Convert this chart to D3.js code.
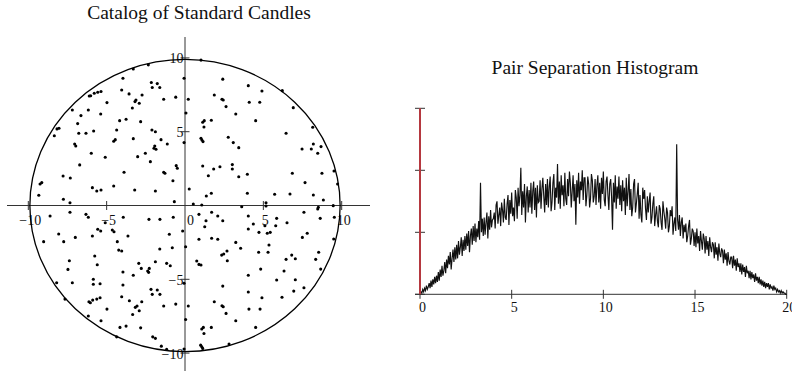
<!DOCTYPE html>
<html><head><meta charset="utf-8">
<script src="https://cdn.jsdelivr.net/npm/d3@7"></script>
<style>
body{margin:0;background:#fff}
svg{display:block}
text{font-family:"Liberation Serif","Times New Roman",serif;fill:#111}
</style>
</head><body>
<svg id="chart" width="792" height="371"></svg>
<script>
const scatterTitle = "Catalog of Standard Candles";
const histTitle = "Pair Separation Histogram";
const scatterTicks = [-10, -5, 5, 10];
const scatterXLabels = [-10, -5, 0, 5, 10];
const scatterYLabels = [10, 5, -5, -10];
const histXTicks = [0, 5, 10, 15, 20];
const histYTicks = [0, 50, 100, 150];
const circleRadius = 9.9;

const candleX = [-2.34,-3.30,-3.96,-0.06,-2.15,-1.77,-2.09,-1.61,-4.04,-5.36,
-5.57,-5.79,-6.02,-6.11,-3.57,-2.74,-0.59,-1.36,0.21,-3.13,
-3.19,-2.92,-4.98,-3.36,-7.19,-6.17,-5.38,-6.64,0.06,-3.76,
-4.17,-2.83,-6.85,-8.04,-8.17,-4.36,-5.83,-2.11,-1.89,-6.78,
-6.32,-8.34,-3.30,-1.53,-4.45,-4.55,-0.06,-7.04,-6.97,-1.13,
-1.93,-1.98,-1.85,-2.53,-5.98,-3.02,-5.09,-2.21,-6.72,-0.56,
-0.49,-3.89,-1.36,-1.28,-7.78,-7.32,-0.77,-9.14,-9.25,0.27,
-5.91,-5.63,-5.36,-4.55,-3.21,-1.89,-9.33,-7.76,
-7.34,-0.68,0.53,0.89,-8.61,-7.34,-6.32,-6.17,-5.09,-3.94,-2.30,-1.60,
-0.75,-5.57,-5.38,-4.64,-4.53,-0.15,-8.06,-5.91,-7.00,-3.64,
-1.00,-9.02,-7.74,-4.32,0.89,-4.23,-4.04,-1.61,-0.81,0.04,
-5.76,-7.38,-1.89,-2.95,-2.79,-5.60,-1.17,-0.94,0.75,0.89,
1.02,-2.28,-2.38,-2.32,-7.47,-3.96,-3.30,-5.85,-5.85,-5.42,
-7.19,-8.19,-3.96,-0.06,-2.17,-1.77,-2.09,-1.60,-4.04,-6.13,
-5.89,-5.63,-5.42,-6.04,-7.66,-3.55,-2.76,-3.06,-3.17,-2.92,
-1.36,-0.59,0.21,-4.98,-3.34,-6.17,0.04,-5.36,-4.15,-3.76,
-2.83,-4.36,-2.06,-1.89,-1.51,-1.17,-0.06,
1.07,3.62,5.17,5.17,8.51,8.47,8.83,9.46,1.70,2.09,
2.41,1.34,1.26,4.04,4.36,4.04,5.10,5.85,5.79,6.51,
7.59,8.63,9.53,4.72,5.25,5.44,1.70,2.09,7.80,7.49,
9.49,3.24,3.55,5.36,5.30,4.70,2.68,2.47,2.34,2.70,
6.81,7.04,6.45,8.53,8.34,8.66,4.83,6.32,4.04,5.85,
7.04,2.41,7.59,6.94,4.04,4.91,6.19,1.87,2.36,2.44,
4.08,4.79,2.62,3.24,1.17,1.07,1.21,1.68,4.51,1.00,
1.07,1.13,2.81,
1.02,2.41,4.04,4.91,6.21,1.87,2.36,2.44,4.10,4.77,
2.62,6.91,3.24,4.51,1.23,1.13,1.21,1.68,8.15,6.45,
1.02,1.08,1.15,2.76,3.08,3.43,7.47,8.19,8.06,8.68,
8.47,1.13,1.83,2.23,3.02,3.02,9.51,6.85,8.74,1.49,
3.43,3.98,7.66,9.74,1.36,1.68,3.98,5.72,6.70,8.19];

const candleY = [9.53,9.25,8.62,8.62,8.33,8.26,7.99,7.99,7.83,7.72,
7.67,7.61,7.44,7.42,7.56,7.49,7.34,7.20,7.20,7.15,
7.04,6.93,6.97,6.61,6.47,6.47,6.20,6.09,6.27,5.84,
5.75,5.68,5.55,5.23,5.19,5.12,5.05,5.12,5.00,4.90,
4.90,4.73,4.53,4.46,4.46,4.35,4.26,4.17,4.03,4.17,
4.03,3.88,3.81,3.54,3.54,3.31,3.27,2.97,2.75,2.70,
2.52,2.25,2.25,2.18,2.00,1.86,1.68,1.55,1.46,1.12,
1.21,0.98,1.05,1.32,1.05,0.98,0.69,0.42,
0.19,0.26,0.10,-0.60,-0.71,-0.46,-0.60,-0.80,-1.17,-0.80,-0.94,-0.94,
-0.80,-1.61,-1.73,-1.66,-1.78,-1.73,-1.93,-2.07,-2.16,-2.07,
-1.95,-2.45,-2.45,-2.45,-2.29,-3.02,-3.08,-2.95,-2.86,-2.79,
-3.42,-3.74,-3.81,-3.92,-4.26,-4.01,-3.92,-4.08,-3.76,-3.99,
-4.03,-4.26,-4.44,-4.53,-4.33,-4.51,-4.73,-5.00,-5.34,-5.30,
-5.23,-5.23,-5.39,-5.27,-5.68,-5.73,-6.02,-6.02,-6.18,-6.52,
-6.41,-6.34,-6.25,-6.59,-6.34,-6.45,-6.52,-6.81,-6.90,-7.13,
-6.81,-6.68,-6.81,-7.02,-7.38,-7.49,-7.72,-7.81,-8.26,-8.17,
-8.29,-8.90,-8.90,-9.00,-9.53,-9.75,-9.73,
0.03,-0.08,0.19,-0.03,-0.12,-0.24,0.37,-0.01,-0.46,-0.71,
-1.03,-1.03,-1.44,-0.71,-1.25,-1.59,-1.37,-0.87,-1.37,-1.17,
-0.46,-0.87,-0.80,-1.82,-1.88,-1.82,-2.22,-2.29,-1.88,-2.16,
-2.27,-2.50,-2.90,-2.68,-3.17,-3.17,-3.08,-3.29,-3.36,-3.74,
-3.36,-3.61,-3.65,-3.17,-3.65,-4.31,-4.31,-4.44,-4.73,-5.05,
-5.03,-5.46,-5.57,-5.80,-5.86,-6.25,-6.22,-6.52,-6.79,-6.86,
-7.02,-7.02,-7.31,-7.81,-8.26,-8.37,-8.67,-8.26,-8.26,-9.46,
-9.57,-9.68,-9.39,
9.85,8.56,8.12,7.76,7.78,7.49,7.20,7.15,7.00,7.00,
6.70,6.63,6.20,5.75,5.75,5.64,5.32,5.78,5.30,4.90,
4.56,4.44,4.33,4.62,4.26,3.92,3.83,4.17,3.83,3.99,
3.54,2.68,2.47,2.63,2.77,2.47,2.34,2.18,2.18,2.02,
1.95,2.12,1.55,1.46,0.64,0.83,0.83,0.76,0.78,0.71];

const binWidth = 0.05;
const pairCounts = [
0,2,1,4,2,5,3,7,4,6,
9,5,11,6,12,8,14,9,15,10,
18,11,20,14,23,15,19,26,17,28,
21,31,24,34,20,29,36,26,38,28,
40,29,43,32,38,46,31,44,35,47,
36,49,39,51,34,47,53,40,55,43,
57,42,53,46,59,44,90,50,61,47,
62,48,58,66,45,63,52,68,54,60,
61,66,53,72,75,57,64,70,55,74,
68,58,77,62,60,73,80,56,76,65,
82,63,70,59,84,78,61,86,71,80,
102,64,83,70,89,58,79,87,66,84,
70,90,65,83,91,68,86,62,88,74,
75,92,69,85,94,79,66,89,72,93,
70,87,95,67,74,90,97,68,86,78,
105,73,91,69,96,80,88,71,98,77,
72,93,79,99,90,70,83,96,75,89,
56,92,78,98,73,91,84,100,76,94,
94,71,80,95,89,70,77,97,92,74,
79,93,72,88,96,74,90,69,94,81,
99,76,71,91,95,80,68,89,93,78,
52,90,74,96,69,87,77,95,72,88,
67,92,75,86,64,94,71,83,97,68,
85,63,70,89,93,66,73,81,90,61,
80,64,58,86,77,84,69,60,79,66,
75,82,57,62,73,79,55,64,71,59,
54,72,69,58,52,75,67,61,53,70,
66,50,55,68,63,71,48,57,62,51,
121,60,52,64,47,58,62,45,56,50,
57,42,47,55,60,40,45,53,51,39,
50,38,53,41,47,35,51,43,36,49,
45,33,47,36,43,31,46,38,34,42,
40,29,42,32,38,27,41,33,30,37,
35,25,36,28,33,23,34,27,24,30,
30,21,31,23,28,19,29,22,25,18,
25,16,24,18,22,14,23,17,19,13,
19,12,18,13,16,10,17,11,14,9,
14,8,12,7,11,6,10,5,9,6,
9,4,8,5,6,3,7,4,5,2,
4,2,3,1,3,1,2,1,1,0,
0];

const svg = d3.select("#chart");
const fmt = v => (v < 0 ? "\u2212" + Math.abs(v) : String(v));
const axisColor = "#333";

// ---------- Left: scatter ----------
const sx = d3.scaleLinear().domain([-10, 10]).range([28.3, 341.7]);
const sy = d3.scaleLinear().domain([-10, 10]).range([353.1, 57.9]);
const L = svg.append("g");

L.append("text").attr("x", 199).attr("y", 18.5).attr("text-anchor", "middle")
  .attr("font-size", 19.5).text(scatterTitle);

L.append("line").attr("x1", 7).attr("x2", 370).attr("y1", sy(0)).attr("y2", sy(0))
  .attr("stroke", axisColor).attr("stroke-width", 1);
L.append("line").attr("x1", sx(0)).attr("x2", sx(0)).attr("y1", 37).attr("y2", 371)
  .attr("stroke", axisColor).attr("stroke-width", 1);

L.selectAll(".xt").data(scatterTicks).join("line")
  .attr("x1", d => sx(d)).attr("x2", d => sx(d))
  .attr("y1", sy(0) - 4.5).attr("y2", sy(0) + 4.5)
  .attr("stroke", axisColor);
L.selectAll(".yt").data(scatterTicks).join("line")
  .attr("y1", d => sy(d)).attr("y2", d => sy(d))
  .attr("x1", sx(0) - 4.5).attr("x2", sx(0) + 4.5)
  .attr("stroke", axisColor);

L.selectAll(".xl").data(scatterXLabels).join("text")
  .attr("x", d => d === 0 ? sx(0) + 5.5 : sx(d) + 2).attr("y", sy(0) + 19)
  .attr("text-anchor", "middle").attr("font-size", 14).text(fmt);
L.selectAll(".yl").data(scatterYLabels).join("text")
  .attr("x", sx(0) - 1.5).attr("y", d => sy(d) + 5.5)
  .attr("text-anchor", "end").attr("font-size", 14).text(fmt);

L.append("ellipse").attr("cx", sx(0)).attr("cy", sy(0))
  .attr("rx", sx(circleRadius) - sx(0)).attr("ry", sy(0) - sy(circleRadius))
  .attr("fill", "none").attr("stroke", "#000").attr("stroke-width", 1.3);

L.selectAll(".pt").data(candleX.map((x, i) => [x, candleY[i]])).join("circle")
  .attr("cx", d => sx(d[0])).attr("cy", d => sy(d[1])).attr("r", 1.55).attr("fill", "#000");

// ---------- Right: histogram ----------
const hx = d3.scaleLinear().domain([0, 20]).range([420, 786.7]);
const hy = d3.scaleLinear().domain([0, 150]).range([294.3, 108.3]);
const R = svg.append("g");

R.append("text").attr("x", 595).attr("y", 73.5).attr("text-anchor", "middle")
  .attr("font-size", 19.5).text(histTitle);

R.append("line").attr("x1", 415).attr("x2", 787).attr("y1", hy(0)).attr("y2", hy(0))
  .attr("stroke", axisColor);
R.selectAll(".hxt").data(histXTicks).join("line")
  .attr("x1", d => hx(d)).attr("x2", d => hx(d))
  .attr("y1", hy(0) - 4.5).attr("y2", hy(0) + 4.5).attr("stroke", axisColor);
R.selectAll(".hxl").data(histXTicks).join("text")
  .attr("x", d => hx(d) + 2.5).attr("y", hy(0) + 18).attr("text-anchor", "middle")
  .attr("font-size", 14).text(fmt);
R.selectAll(".hyt").data(histYTicks).join("line")
  .attr("y1", d => hy(d)).attr("y2", d => hy(d))
  .attr("x1", hx(0) - 5).attr("x2", hx(0) + 5).attr("stroke", axisColor);

const line = d3.line().x((d, i) => hx(i * binWidth)).y(d => hy(d));
R.append("path").datum(pairCounts).attr("d", line)
  .attr("fill", "none").attr("stroke", "#111").attr("stroke-width", 1.15)
  .attr("stroke-linejoin", "miter");

R.append("line").attr("x1", hx(0)).attr("x2", hx(0))
  .attr("y1", hy(0)).attr("y2", hy(d3.max(histYTicks)))
  .attr("stroke", "#b5383f").attr("stroke-width", 2);
</script>
</body></html>
